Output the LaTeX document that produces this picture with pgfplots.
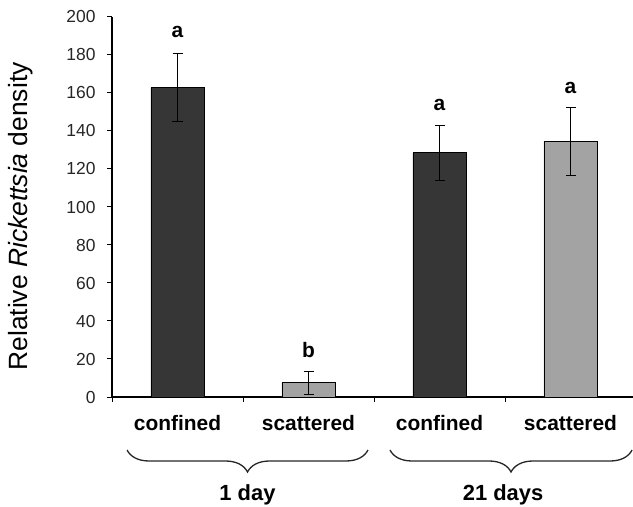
\documentclass[border=0pt]{standalone}
\usepackage{fontspec}
\setmainfont{Liberation Sans}
\usepackage{pgfplots}
\pgfplotsset{compat=1.18}
\usetikzlibrary{decorations.pathreplacing}
\definecolor{darkbar}{gray}{0.21}
\definecolor{lightbar}{gray}{0.64}
\begin{document}
\begin{tikzpicture}
\path[use as bounding box] (0,0) rectangle (633bp,507bp);
\begin{axis}[
  at={(112bp,110bp)}, anchor=south west,
  scale only axis, width=524bp, height=380bp,
  xmin=0, xmax=4, ymin=0, ymax=200,
  axis x line=bottom, axis y line=left,
  axis line style={-, line width=1.1bp, black},
  xtick=\empty,
  extra x ticks={0,1,2,3,4}, extra x tick labels={},
  extra x tick style={tick align=outside, major tick length=5bp, tick style={line width=1bp, black}},
  ytick={0,20,...,200},
  tick align=outside, major tick length=5bp,
  tick style={line width=1bp, black},
  /pgf/number format/assume math mode=true,
  yticklabel style={font=\fontsize{17.5}{20}\selectfont, color=black!85, xshift=-8bp},
  clip=false,
]
\addplot[ybar, bar width=0.405, fill=darkbar, draw=black, line width=0.9bp,
  error bars/.cd, y dir=both, y explicit,
  error bar style={line width=1bp, black},
  error mark options={rotate=90, mark size=5bp, line width=1bp, black}]
  coordinates {(0.5,163) +- (0,18) (2.5,128.5) +- (0,14.5)};
\addplot[ybar, bar width=0.405, fill=lightbar, draw=black, line width=0.9bp,
  error bars/.cd, y dir=both, y explicit,
  error bar style={line width=1bp, black},
  error mark options={rotate=90, mark size=5bp, line width=1bp, black}]
  coordinates {(1.5,7.5) +- (0,6) (3.5,134.5) +- (0,18)};
% y label
\node[rotate=90, anchor=center, font=\fontsize{26.5}{30}\selectfont]
  at ([xshift=-91bp]rel axis cs:0,0.475) {Relative \textit{Rickettsia} density};
% significance letters
\tikzset{sig/.style={font=\bfseries\fontsize{21}{24}\selectfont, anchor=base, inner sep=0pt}}
\node[sig] at (axis cs:0.5,189) {a};
\node[sig] at (axis cs:1.5,21) {b};
\node[sig] at (axis cs:2.5,151) {a};
\node[sig] at (axis cs:3.5,159.5) {a};
% category labels
\tikzset{cat/.style={font=\bfseries\fontsize{21}{24}\selectfont, anchor=base, inner sep=0pt}}
\node[cat] at ([yshift=-33bp]axis cs:0.5,0) {confined};
\node[cat] at ([yshift=-33bp]axis cs:1.5,0) {scattered};
\node[cat] at ([yshift=-33bp]axis cs:2.5,0) {confined};
\node[cat] at ([yshift=-33bp]axis cs:3.5,0) {scattered};
% braces
\draw[decorate, decoration={brace, mirror, amplitude=22bp}, line width=1.3bp, black!85]
  ([yshift=-53bp]axis cs:0.115,0) -- ([yshift=-53bp]axis cs:1.954,0);
\draw[decorate, decoration={brace, mirror, amplitude=22bp}, line width=1.3bp, black!85]
  ([yshift=-53bp]axis cs:2.122,0) -- ([yshift=-53bp]axis cs:3.97,0);
\tikzset{grp/.style={font=\bfseries\fontsize{22}{25}\selectfont, anchor=base, inner sep=0pt}}
\node[grp] at ([yshift=-103bp]axis cs:1.034,0) {1 day};
\node[grp] at ([yshift=-103bp]axis cs:2.985,0) {21 days};
\end{axis}
\end{tikzpicture}
\end{document}
